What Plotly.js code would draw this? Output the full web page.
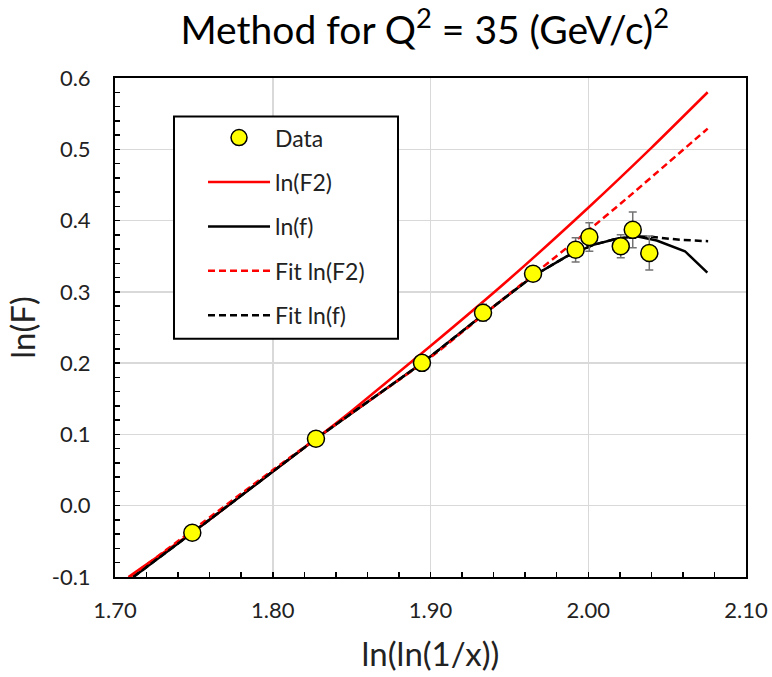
<!DOCTYPE html>
<html>
<head>
<meta charset="utf-8">
<script src="https://cdn.plot.ly/plotly-3.0.1.min.js"></script>
<style>html,body{margin:0;padding:0;background:#fff;}#chart{width:772px;height:677px;}</style>
</head>
<body>
<div id="chart"></div>
<script>
// Data points
const dataX = [1.749, 1.8274, 1.8946, 1.9333, 1.965, 1.992, 2.0007, 2.0206, 2.0282, 2.0387];
const dataY = [-0.038, 0.094, 0.2004, 0.2707, 0.3254, 0.359, 0.377, 0.364, 0.387, 0.3545];
const dataErr = [0.008, 0.008, 0.008, 0.012, 0.01, 0.017, 0.02, 0.016, 0.025, 0.024];

// ln(F2) curve
const lnF2X = [1.7085, 1.75, 1.80, 1.8274, 1.85, 1.90, 1.95, 2.00, 2.04, 2.0757];
const lnF2Y = [-0.10, -0.036, 0.048, 0.094, 0.133, 0.224, 0.318, 0.418, 0.502, 0.58];

// ln(f) curve
const lnfX = [1.7116, 1.749, 1.8274, 1.8946, 1.9333, 1.965, 1.9863, 2.0032, 2.018, 2.0307, 2.0434, 2.0613, 2.0755];
const lnfY = [-0.10, -0.038, 0.094, 0.200, 0.268, 0.322, 0.3497, 0.366, 0.3746, 0.378, 0.372, 0.357, 0.327];

// Fit ln(F2)
const fitF2X = [1.7095, 1.75, 1.80, 1.85, 1.90, 1.944, 2.00, 2.0233, 2.0757];
const fitF2Y = [-0.10, -0.033, 0.05, 0.13, 0.208, 0.2865, 0.386, 0.429, 0.529];

// Fit ln(f)
const fitfX = [1.7116, 1.749, 1.8274, 1.8946, 1.9333, 1.965, 1.9863, 2.0032, 2.018, 2.0307, 2.0413, 2.058, 2.076];
const fitfY = [-0.10, -0.038, 0.094, 0.200, 0.268, 0.322, 0.3497, 0.366, 0.3746, 0.378, 0.377, 0.373, 0.371];

const yTickVals = [-0.1, 0.0, 0.1, 0.2, 0.3, 0.4, 0.5, 0.6];
const yTickText = ['-0.1', '0.0', '0.1', '0.2', '0.3', '0.4', '0.5', '0.6'];
const xTickVals = [1.70, 1.80, 1.90, 2.00, 2.10];
const xTickText = ['1.70', '1.80', '1.90', '2.00', '2.10'];

const FONT = 'Lato, "Noto Sans", sans-serif';

const traces = [
  {x: lnF2X, y: lnF2Y, name: 'ln(F2)', mode: 'lines', line: {color: '#ff0000', width: 2.5, shape: 'spline', smoothing: 0.6},
   legendgroup: 'b', legendrank: 2},
  {x: lnfX, y: lnfY, name: 'ln(f)', mode: 'lines', line: {color: '#000000', width: 2.5},
   legendgroup: 'c', legendrank: 3},
  {x: fitF2X, y: fitF2Y, name: 'Fit ln(F2)', mode: 'lines', line: {color: '#ff0000', width: 2.5, dash: '7px,4px', shape: 'spline', smoothing: 0.6},
   legendgroup: 'd', legendrank: 4},
  {x: fitfX, y: fitfY, name: 'Fit ln(f)', mode: 'lines', line: {color: '#000000', width: 2.5, dash: '7px,4px'},
   legendgroup: 'e', legendrank: 5},
  {x: dataX, y: dataY, name: 'Data', mode: 'markers',
   marker: {color: '#ffff00', size: 17, line: {color: '#000000', width: 1.5}},
   error_y: {type: 'data', array: dataErr, visible: true, color: '#737373', thickness: 1.5, width: 4},
   legendgroup: 'a', legendrank: 1}
];

const layout = {
  width: 772, height: 677,
  margin: {l: 115, r: 26, t: 78, b: 100},
  paper_bgcolor: '#ffffff', plot_bgcolor: '#ffffff',
  font: {family: FONT, color: '#000000'},
  title: {text: 'Method for Q<sup>2</sup> = 35 (GeV/c)<sup>2</sup>', font: {size: 39, family: FONT, color: '#000'},
          x: 0.491, xref: 'paper', xanchor: 'center', y: 0.955, yref: 'container', yanchor: 'middle'},
  xaxis: {
    range: [1.70, 2.10], tickvals: xTickVals, ticktext: xTickText,
    showgrid: true, gridcolor: '#d9d9d9', gridwidth: 1.5,
    showline: true, linecolor: '#000', linewidth: 2, mirror: true,
    ticks: 'inside', ticklen: 5, tickcolor: '#000', tickwidth: 1.5,
    tickfont: {size: 22, family: FONT, color: '#222'}, ticklabelstandoff: 13,
    minor: {dtick: 0.02, tick0: 1.70, ticks: 'inside', ticklen: 5, tickcolor: '#000', tickwidth: 1.5, showgrid: false},
    zeroline: false,
    title: {text: 'ln(ln(1/x))', font: {size: 33, family: FONT, color: '#222'}, standoff: 20}
  },
  yaxis: {
    range: [-0.1, 0.6], tickvals: yTickVals, ticktext: yTickText,
    showgrid: true, gridcolor: '#d9d9d9', gridwidth: 1.5,
    showline: true, linecolor: '#000', linewidth: 2, mirror: true,
    ticks: 'inside', ticklen: 5, tickcolor: '#000', tickwidth: 1.5,
    tickfont: {size: 22, family: FONT, color: '#222'}, ticklabelstandoff: 18,
    minor: {dtick: 0.02, tick0: -0.1, ticks: 'inside', ticklen: 5, tickcolor: '#000', tickwidth: 1.5, showgrid: false},
    zeroline: false,
    title: {text: 'ln(F)', font: {size: 33, family: FONT, color: '#222'}, standoff: 6}
  },
  shapes: [
    {type: 'rect', xref: 'paper', yref: 'paper', x0: 0.0935, x1: 0.4485, y0: 0.4774, y1: 0.9228,
     fillcolor: '#ffffff', line: {color: '#000', width: 2}, layer: 'above'}
  ],
  showlegend: true,
  legend: {
    x: 0.1395, y: 0.9235, xanchor: 'left', yanchor: 'top',
    bgcolor: 'rgba(0,0,0,0)', borderwidth: 0,
    font: {size: 23, family: FONT, color: '#222'},
    traceorder: 'grouped', tracegroupgap: 11.5, itemwidth: 62
  }
};

Plotly.newPlot('chart', traces, layout, {displayModeBar: false, staticPlot: true});
</script>
</body>
</html>
